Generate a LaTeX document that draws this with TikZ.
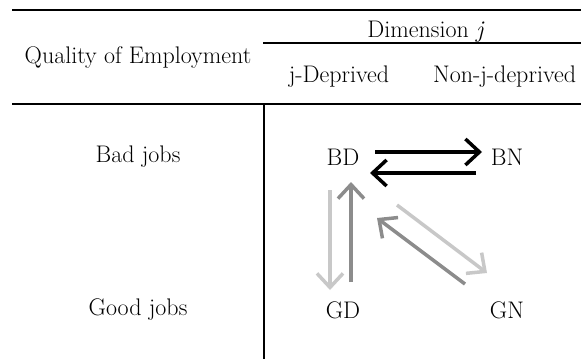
\documentclass[tikz,border=0pt]{standalone}
\usepackage{tikz}
\usetikzlibrary{positioning}
\usetikzlibrary{calc}
\usetikzlibrary{arrows.meta}
\definecolor{lightarr}{HTML}{C8C8C8}
\definecolor{darkarr}{HTML}{8C8C8C}
\tikzset{
    transition diagram/.style={
            x=1pt,y=-1pt,
            every node/.style={font=\fontsize{24}{28}\selectfont,inner sep=0pt},
            rule/.style={line width=1.6pt},
            move/.style={line width=3.5pt,-{Straight Barb[length=14pt,width=26pt]}},
            black move/.style={move,black},
            light move/.style={move,lightarr},
            dark move/.style={move,darkarr}
        }
    }
\begin{document}
\begin{tikzpicture}[transition diagram]
    \useasboundingbox (0,0) rectangle (581,359);
    % table frame
    \coordinate (tl) at (12,10);   \coordinate (tr) at (581,10);
    \coordinate (ml) at (263,43);  \coordinate (mr) at (581,43);
    \coordinate (bl) at (12,104);  \coordinate (br) at (581,104);
    \coordinate (vt) at (264,104); \coordinate (vb) at (264,359);
    \draw [rule] (tl) -- (tr);
    \draw [rule,line width=2.4pt] (ml) -- (mr);
    \draw [rule] (bl) -- (br);
    \draw [rule] (vt) -- (vb);
    % headers
    \node (q) at (138,58) {Quality of Employment};
    \node (dim) at (426,32) {Dimension \textit{j}};
    \node (jd) at (339,77) {j-Deprived};
    \node (nj) [anchor=west] at (433,77) {Non-j-deprived};
    \node (bad) at (138,157) {Bad jobs};
    \node (good) at (138,310) {Good jobs};
    % states
    \node (BD) at (343,157) {BD};
    \node (BN) at (507,157) {BN};
    \node (GD) at (343,310) {GD};
    \node (GN) at (507,310) {GN};
    \draw [black move] ($(BD)+(32,-5)$) -- ($(BN)+(-25,-5)$);
    \draw [black move] ($(BN)+(-31,16)$) -- ($(BD)+(27,16)$);
    \draw [light move] ($(BD)+(-13,33)$) -- ($(GD)+(-13,-20)$);
    \draw [dark move] ($(GD)+(8,-28)$) -- ($(BD)+(8,25)$);
    \draw [light move] ($(BD)+(54,48)$) -- ($(GN)+(-20,-37)$);
    \draw [dark move] ($(GN)+(-42,-26)$) -- ($(BD)+(34,61)$);
\end{tikzpicture}
\end{document}
